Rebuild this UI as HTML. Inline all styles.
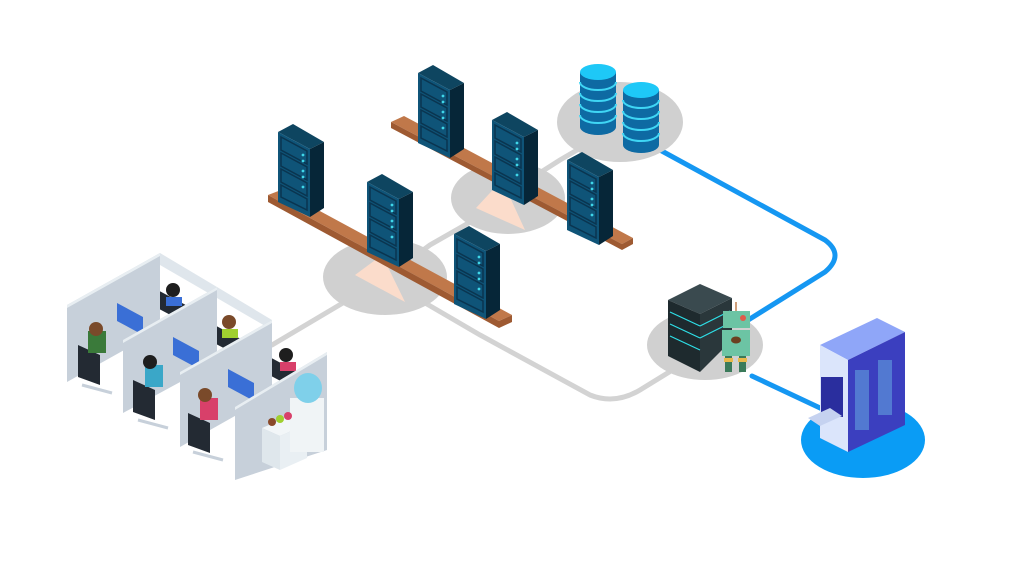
<!DOCTYPE html>
<html><head><meta charset="utf-8"><style>html,body{margin:0;padding:0;background:#fff;width:1014px;height:570px;overflow:hidden}</style></head>
<body>
<svg width="1014" height="570" viewBox="0 0 1014 570" xmlns="http://www.w3.org/2000/svg">
<defs>
<g id="rack">
  <polygon points="0,8 15,0 46,18 32,25" fill="#0e4560"/>
  <polygon points="0,8 32,25 32,93 0,78" fill="#0f5478"/>
  <polygon points="32,25 46,18 46,84 32,93" fill="#062638"/>
  <g stroke="#0a3550" stroke-width="1.5" fill="none">
    <polygon points="3,13 29,27 29,40 3,26"/>
    <polygon points="3,29 29,43 29,56 3,42"/>
    <polygon points="3,45 29,59 29,72 3,58"/>
    <polygon points="3,61 29,75 29,86 3,73"/>
  </g>
  <g fill="#3fd6e8"><circle cx="25" cy="31" r="1.4"/><circle cx="25" cy="47" r="1.4"/><circle cx="25" cy="63" r="1.4"/><circle cx="25" cy="37" r="1.4"/><circle cx="25" cy="53" r="1.4"/></g>
</g>
<g id="cyl">
  <path d="M-18,0 V55 A18,8 0 0 0 18,55 V0 Z" fill="#0e6aa3"/>
  <g stroke="#3fd6f5" stroke-width="2" fill="none">
    <path d="M-18,10 A18,8 0 0 0 18,10"/><path d="M-18,21 A18,8 0 0 0 18,21"/><path d="M-18,32 A18,8 0 0 0 18,32"/><path d="M-18,43 A18,8 0 0 0 18,43"/>
  </g>
  <ellipse cx="0" cy="0" rx="18" ry="8" fill="#1ec8f7"/>
</g>
</defs>

<!-- gray connectors -->
<g stroke="#d3d3d3" stroke-width="5" fill="none" stroke-linecap="round">
  <path d="M272,345 L385,278"/>
  <path d="M385,278 L430,245 L500,205"/>
  <path d="M505,195 L560,160 L620,125"/>
  <path d="M420,300 L480,335 L590,395 Q615,405 640,390 L705,350"/>
</g>
<!-- blue connectors -->
<g stroke="#1597f2" stroke-width="5" fill="none" stroke-linecap="round">
  <path d="M660,150 L825,240 Q845,255 825,272 L745,322"/>
  <path d="M752,376 L835,415"/>
</g>

<!-- platforms -->
<ellipse cx="385" cy="277" rx="62" ry="38" fill="#d0d0d0"/>
<ellipse cx="508" cy="198" rx="57" ry="36" fill="#d0d0d0"/>
<ellipse cx="620" cy="122" rx="63" ry="40" fill="#d0d0d0"/>
<ellipse cx="705" cy="345" rx="58" ry="35" fill="#d0d0d0"/>
<ellipse cx="863" cy="440" rx="62" ry="38" fill="#0a9cf5"/>

<!-- fulcrums -->
<polygon points="355,275 382,255 405,302" fill="#fbdccb"/>
<polygon points="476,208 502,180 525,230" fill="#fbdccb"/>

<!-- plank 2 -->
<polygon points="391,122 404,116 633,238 622,244" fill="#c0784a"/>
<polygon points="391,122 622,244 622,250 391,128" fill="#9e5a32"/>
<polygon points="622,244 633,238 633,244 622,250" fill="#9e5a32"/>
<use href="#rack" x="418" y="65"/>
<use href="#rack" x="492" y="112"/>
<use href="#rack" x="567" y="152"/>

<!-- plank 1 -->
<polygon points="268,195 281,190 512,315 499,321" fill="#c0784a"/>
<polygon points="268,195 499,321 499,328 268,202" fill="#9e5a32"/>
<polygon points="499,321 512,315 512,322 499,328" fill="#9e5a32"/>
<use href="#rack" x="278" y="124"/>
<use href="#rack" x="367" y="174"/>
<use href="#rack" x="454" y="226"/>

<!-- databases -->
<use href="#cyl" x="598" y="72"/>
<use href="#cyl" x="641" y="90"/>

<!-- black server -->
<polygon points="668,300 700,284 732,298 700,314" fill="#3a4a4f"/>
<polygon points="668,300 700,314 700,372 668,356" fill="#1e2a2e"/>
<polygon points="700,314 732,298 732,340 700,372" fill="#2a373b"/>
<g stroke="#2ee0e8" stroke-width="1.2"><line x1="670" y1="312" x2="700" y2="326"/><line x1="670" y1="324" x2="700" y2="338"/><line x1="670" y1="336" x2="700" y2="350"/><line x1="700" y1="326" x2="730" y2="311"/><line x1="700" y1="338" x2="730" y2="323"/></g>
<!-- robot -->
<rect x="723" y="311" width="27" height="17" fill="#6cc4a4"/>
<circle cx="743" cy="318" r="3" fill="#e05a4a"/>
<rect x="722" y="330" width="28" height="26" fill="#6cc4a4"/>
<ellipse cx="736" cy="340" rx="5" ry="3.5" fill="#6b4020"/>
<rect x="725" y="356" width="7" height="16" fill="#3a7a5a"/><rect x="739" y="356" width="7" height="16" fill="#3a7a5a"/>
<rect x="724" y="358" width="9" height="4" fill="#e8b84a"/><rect x="738" y="358" width="9" height="4" fill="#e8b84a"/>
<line x1="736" y1="302" x2="736" y2="311" stroke="#c08050" stroke-width="1.5"/>

<!-- big server -->
<polygon points="820,345 877,318 905,332 848,360" fill="#8fa6f8"/>
<polygon points="820,345 848,360 848,452 820,438" fill="#dbe5fb"/>
<polygon points="848,360 905,332 905,425 848,452" fill="#3b3fbf"/>
<rect x="821" y="377" width="22" height="40" fill="#2a2e9e"/>
<polygon points="808,418 830,408 842,416 820,426" fill="#c5d2f0"/>
<g fill="#7fe6f5" opacity=".35"><rect x="855" y="370" width="14" height="60"/><rect x="878" y="360" width="14" height="55"/></g>

<!-- office -->
<g>
  <!-- back partitions -->
  <polygon points="160,253 217,287 217,298 160,265" fill="#dfe6ec"/>
  <polygon points="217,287 272,320 272,330 217,298" fill="#dfe6ec"/>
  <!-- back row people -->
  <rect x="150" y="286" width="40" height="16" fill="#232a33" transform="rotate(28 150 286)"/>
  <circle cx="173" cy="290" r="7" fill="#1e1e1e"/><rect x="166" y="297" width="16" height="9" fill="#3a6fd6"/>
  <rect x="205" y="320" width="40" height="16" fill="#232a33" transform="rotate(28 205 320)"/>
  <circle cx="229" cy="322" r="7" fill="#7a4a2a"/><rect x="222" y="329" width="16" height="9" fill="#a0d030"/>
  <rect x="262" y="353" width="40" height="16" fill="#232a33" transform="rotate(28 262 353)"/>
  <circle cx="286" cy="355" r="7" fill="#1e1e1e"/><rect x="280" y="362" width="16" height="9" fill="#d8406a"/>

  <!-- panel 1 -->
  <polygon points="67,305 160,253 160,330 67,382" fill="#c7d0da"/>
  <polygon points="67,305 160,253 160,256 67,308" fill="#e8eef2"/>
  <polygon points="117,303 143,317 143,335 117,321" fill="#3a6fd6"/>
  <path d="M78,345 l22,10 v30 l-22,-8z" fill="#232a33"/>
  <rect x="88" y="331" width="18" height="22" fill="#3a7a3a"/><circle cx="96" cy="329" r="7" fill="#7a4a2a"/>
  <path d="M82,385 l30,8" stroke="#c7d0da" stroke-width="3"/>

  <!-- panel 2 -->
  <polygon points="123,340 217,287 217,362 123,413" fill="#c7d0da"/>
  <polygon points="123,340 217,287 217,290 123,343" fill="#e8eef2"/>
  <polygon points="173,337 199,351 199,369 173,355" fill="#3a6fd6"/>
  <path d="M133,380 l22,10 v30 l-22,-8z" fill="#232a33"/>
  <rect x="145" y="365" width="18" height="22" fill="#3aa7c8"/><circle cx="150" cy="362" r="7" fill="#1e1e1e"/>
  <path d="M138,420 l30,8" stroke="#c7d0da" stroke-width="3"/>

  <!-- panel 3 -->
  <polygon points="180,372 272,320 272,395 180,447" fill="#c7d0da"/>
  <polygon points="180,372 272,320 272,323 180,375" fill="#e8eef2"/>
  <polygon points="228,369 254,383 254,401 228,387" fill="#3a6fd6"/>
  <path d="M188,413 l22,10 v30 l-22,-8z" fill="#232a33"/>
  <rect x="200" y="398" width="18" height="22" fill="#d8406a"/><circle cx="205" cy="395" r="7" fill="#7a4a2a"/>
  <path d="M193,452 l30,8" stroke="#c7d0da" stroke-width="3"/>

  <!-- front panel 4 -->
  <polygon points="235,407 327,352 327,450 235,480" fill="#c7d0da"/>
  <polygon points="235,407 327,352 327,355 235,410" fill="#e8eef2"/>
  <!-- water cooler & table -->
  <polygon points="262,428 290,416 307,424 280,436" fill="#f2f6f8"/>
  <polygon points="262,428 280,436 280,470 262,462" fill="#dfe7ec"/>
  <polygon points="280,436 307,424 307,458 280,470" fill="#e9eff3"/>
  <rect x="290" y="398" width="34" height="54" fill="#f0f4f6"/>
  <ellipse cx="308" cy="388" rx="14" ry="15" fill="#7fd0ea"/>
  <circle cx="272" cy="422" r="4" fill="#8a4a2a"/><circle cx="280" cy="419" r="4" fill="#a0d030"/><circle cx="288" cy="416" r="4" fill="#d8406a"/>
</g>
</svg>
</body></html>
